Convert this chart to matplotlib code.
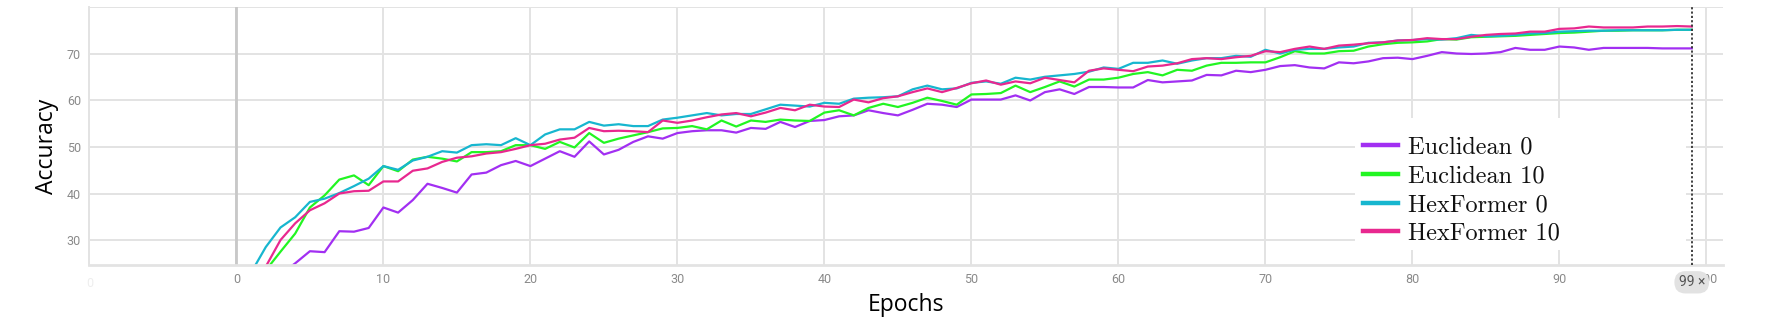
import matplotlib
matplotlib.use("Agg")
import matplotlib.pyplot as plt
from matplotlib.patches import Rectangle
from matplotlib.transforms import blended_transform_factory

# =========================
# DATA
# =========================
epochs = list(range(100))

euclid_0 = [10, 14, 18, 22.6, 25.0, 27.6, 27.4, 31.9, 31.8, 32.6,
            37.0, 35.9, 38.6, 42.1, 41.2, 40.2, 44.1, 44.5, 46.1, 47.0,
            45.9, 47.5, 49.1, 47.9, 51.2, 48.4, 49.4, 51.1, 52.3, 51.8,
            53.0, 53.4, 53.6, 53.6, 53.1, 54.1, 53.9, 55.4, 54.3, 55.6,
            55.8, 56.6, 56.8, 57.9, 57.3, 56.8, 58.0, 59.3, 59.1, 58.6,
            60.2, 60.2, 60.2, 61.1, 60.0, 61.8, 62.4, 61.4, 62.9, 62.9,
            62.8, 62.8, 64.4, 63.9, 64.1, 64.3, 65.5, 65.4, 66.4, 66.1,
            66.6, 67.4, 67.6, 67.1, 66.9, 68.2, 68.0, 68.4, 69.1, 69.2,
            68.9, 69.6, 70.4, 70.1, 70.0, 70.1, 70.4, 71.3, 70.9, 70.9,
            71.6, 71.4, 70.9, 71.3, 71.3, 71.3, 71.3, 71.2, 71.2, 71.2]

euclid_10 = [12, 17, 23.5, 27.5, 31.4, 37.0, 39.6, 43.0, 43.9, 41.8,
             45.9, 44.8, 47.3, 47.9, 47.5, 46.9, 48.9, 48.9, 49.1, 50.4,
             50.4, 49.6, 51.1, 49.9, 53.0, 50.9, 51.8, 52.5, 53.2, 54.0,
             54.1, 54.5, 53.8, 55.7, 54.4, 55.7, 55.4, 55.9, 55.7, 55.6,
             57.4, 57.9, 56.8, 58.4, 59.3, 58.6, 59.5, 60.6, 59.9, 59.1,
             61.3, 61.4, 61.6, 63.2, 61.8, 62.9, 64.1, 63.0, 64.5, 64.5,
             64.9, 65.7, 66.1, 65.4, 66.6, 66.4, 67.5, 68.1, 68.1, 68.2,
             68.2, 69.3, 70.6, 70.1, 70.1, 70.6, 70.7, 71.6, 72.1, 72.4,
             72.5, 72.7, 73.2, 73.1, 73.6, 73.7, 73.8, 73.9, 74.1, 74.3,
             74.5, 74.6, 74.8, 75.0, 75.0, 75.1, 75.1, 75.1, 75.2, 75.2]

hex_0 = [16, 23, 28.5, 32.7, 34.9, 38.2, 38.9, 40.1, 41.6, 43.2,
         45.9, 45.1, 47.1, 47.9, 49.1, 48.8, 50.4, 50.6, 50.4, 51.9,
         50.4, 52.7, 53.8, 53.8, 55.4, 54.6, 54.9, 54.5, 54.5, 55.9,
         56.3, 56.8, 57.3, 56.8, 57.1, 57.1, 58.1, 59.1, 58.9, 58.7,
         59.5, 59.3, 60.4, 60.6, 60.7, 60.9, 62.4, 63.2, 62.4, 62.6,
         63.8, 64.1, 63.6, 64.9, 64.5, 65.1, 65.4, 65.7, 66.2, 67.1,
         66.8, 68.1, 68.1, 68.6, 67.9, 68.6, 69.1, 69.1, 69.6, 69.4,
         70.9, 70.1, 70.9, 71.1, 71.1, 71.4, 71.6, 72.4, 72.5, 72.9,
         73.0, 73.2, 73.1, 73.4, 74.1, 73.8, 73.9, 74.1, 74.4, 74.5,
         74.8, 74.9, 75.0, 75.0, 75.1, 75.1, 75.1, 75.1, 75.2, 75.2]

hex_10 = [14, 19, 24.3, 30.0, 33.6, 36.4, 37.9, 40.0, 40.5, 40.6,
          42.6, 42.6, 44.9, 45.4, 46.8, 47.7, 48.0, 48.6, 48.9, 49.6,
          50.4, 50.7, 51.6, 52.0, 54.1, 53.4, 53.5, 53.4, 53.2, 55.7,
          55.2, 55.7, 56.4, 57.0, 57.3, 56.6, 57.4, 58.4, 57.9, 59.1,
          58.7, 58.6, 60.2, 59.6, 60.5, 60.9, 61.8, 62.6, 61.8, 62.7,
          63.7, 64.3, 63.4, 64.1, 63.7, 64.9, 64.4, 63.9, 66.4, 66.9,
          66.6, 66.3, 67.3, 67.5, 68.0, 68.9, 69.1, 68.9, 69.3, 69.6,
          70.6, 70.4, 71.1, 71.6, 71.1, 71.8, 72.0, 72.3, 72.5, 72.9,
          73.0, 73.4, 73.2, 73.2, 73.7, 74.1, 74.3, 74.4, 74.8, 74.8,
          75.4, 75.5, 75.9, 75.7, 75.7, 75.7, 75.9, 75.9, 76.0, 75.9]

labels = ["Euclidean 0", "Euclidean 10", "HexFormer 0", "HexFormer 10"]
colors = ["#a22ff2", "#22f522", "#17b6cf", "#e8288f"]
x_ticks = [0, 10, 20, 30, 40, 50, 60, 70, 80, 90, 100]
y_ticks = [30, 40, 50, 60, 70]

# =========================
# PLOT
# =========================
fig = plt.figure(figsize=(17.77, 3.18), dpi=100)
ax = fig.add_axes([0.0503, 0.1667, 0.9191, 0.8113])

for series, lab, col in zip([euclid_0, euclid_10, hex_0, hex_10], labels, colors):
    ax.plot(epochs, series, color=col, linewidth=1.6, label=lab, zorder=2)

ax.set_xlim(-10, 101.1)
ax.set_ylim(24.64, 80.1)

ax.set_axisbelow(True)
ax.set_xticks(x_ticks)
ax.set_yticks(y_ticks + [80])
ax.set_yticklabels([str(v) for v in y_ticks] + [""])
ax.tick_params(length=0, labelsize=9, labelcolor="#8a8a8a", pad=6)
for t in ax.get_xticklabels() + ax.get_yticklabels():
    t.set_family("Roboto")
ax.grid(True, color="#e3e3e3", linewidth=1.4)

# darker zero line
ax.axvline(0, color="#c8c8c8", linewidth=2.0, zorder=1)

for side in ["top", "right"]:
    ax.spines[side].set_visible(False)
ax.spines["left"].set_color("#e3e3e3")
ax.spines["bottom"].set_color("#e3e3e3")
ax.spines["left"].set_linewidth(1.4)
ax.spines["bottom"].set_linewidth(2.0)

# faint leftmost label
trans = blended_transform_factory(ax.transData, ax.transAxes)
ax.text(-10, -0.045, "0", transform=trans, ha="center", va="top",
        fontsize=9, color="#eeeeee", family="Roboto")

# hover marker at epoch 99
ax.axvline(99, color="#333333", linestyle=(0, (1.2, 1.2)), linewidth=1.3, zorder=3)
ax.text(99, -0.04, "99 \u00d7", transform=trans, ha="center", va="top",
        fontsize=10, color="#555555", family="Roboto", zorder=5,
        bbox=dict(boxstyle="round,pad=0.3,rounding_size=0.8", fc="#e2e2e2", ec="none"))

# white block behind legend
ax.add_patch(Rectangle((0.7749, 0.058), 0.2026, 0.51, transform=ax.transAxes,
                       facecolor="white", edgecolor="none", zorder=1))

leg = ax.legend(loc="upper left", bbox_to_anchor=(0.7749, 0.528), frameon=False,
                prop={"family": "cmr10", "size": 17.5}, handlelength=1.46,
                handletextpad=0.41, labelspacing=0.27, borderaxespad=0, borderpad=0.32)
for line in leg.get_lines():
    line.set_linewidth(3.2)
for t in leg.get_texts():
    t.set_color("#111111")

ax.set_xlabel("Epochs", family="Open Sans", fontsize=16.5, labelpad=5)
fig.text(0.0265, 0.54, "Accuracy", rotation=90, ha="center", va="center",
         family="Open Sans", fontsize=16.5)

fig.savefig("out.png", dpi=100)
